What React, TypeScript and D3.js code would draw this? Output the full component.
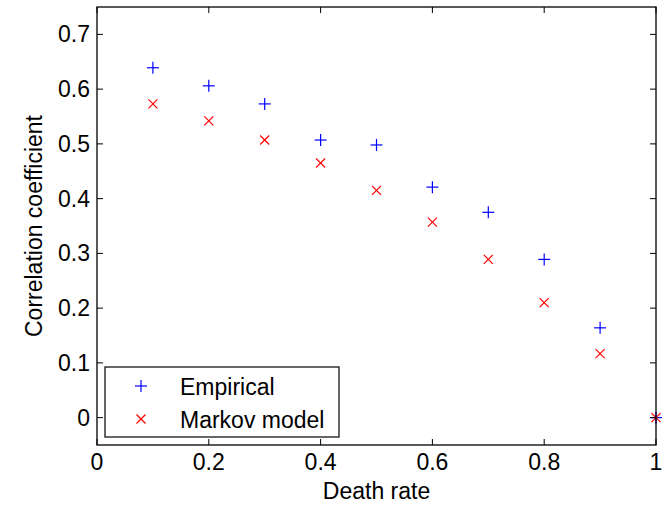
import React from 'react';
import * as d3 from 'd3';

const deathRates = [0.1, 0.2, 0.3, 0.4, 0.5, 0.6, 0.7, 0.8, 0.9, 1.0];
const empirical = [0.639, 0.606, 0.573, 0.507, 0.498, 0.421, 0.375, 0.289, 0.164, 0.0];
const markov = [0.573, 0.542, 0.507, 0.465, 0.415, 0.357, 0.289, 0.21, 0.117, 0.0];
const xTicks = [0, 0.2, 0.4, 0.6, 0.8, 1];
const yTicks = [0, 0.1, 0.2, 0.3, 0.4, 0.5, 0.6, 0.7];

const W = 669;
const H = 506;
const margin = { top: 7, right: 13, bottom: 61, left: 97 };
const font = '"Liberation Sans", Arial, Helvetica, sans-serif';
const fs = 23;

function Plus({ x, y }: { x: number; y: number }) {
  const s = 6;
  return (
    <g stroke="#0000ff" strokeWidth={1.2}>
      <line x1={x - s} x2={x + s} y1={y} y2={y} />
      <line x1={x} x2={x} y1={y - s} y2={y + s} />
    </g>
  );
}

function Cross({ x, y }: { x: number; y: number }) {
  const s = 4.5;
  return (
    <g stroke="#ff0000" strokeWidth={1.2}>
      <line x1={x - s} x2={x + s} y1={y - s} y2={y + s} />
      <line x1={x - s} x2={x + s} y1={y + s} y2={y - s} />
    </g>
  );
}

export default function App() {
  const innerW = W - margin.left - margin.right;
  const innerH = H - margin.top - margin.bottom;
  const x = d3.scaleLinear().domain([0, 1]).range([margin.left, margin.left + innerW]);
  const y = d3.scaleLinear().domain([-0.05, 0.75]).range([margin.top + innerH, margin.top]);
  const x0 = margin.left, x1 = margin.left + innerW;
  const y0 = margin.top + innerH, y1 = margin.top;
  const tl = 6;

  return (
    <div style={{ position: 'absolute', left: 0, top: 0 }}>
      <svg width={W} height={H} style={{ display: 'block', background: '#fff' }} fontFamily={font}>
        <rect x={0} y={0} width={W} height={H} fill="#fff" />
        {/* points */}
        {deathRates.map((d, i) => (
          <Plus key={'e' + i} x={x(d)} y={y(empirical[i])} />
        ))}
        {deathRates.map((d, i) => (
          <Cross key={'m' + i} x={x(d)} y={y(markov[i])} />
        ))}
        {/* axes box */}
        <rect x={x0} y={y1} width={innerW} height={innerH} fill="none" stroke="#000" strokeWidth={1.3} />
        {xTicks.map(t => (
          <g key={'xt' + t}>
            <line x1={x(t)} x2={x(t)} y1={y0} y2={y0 - tl} stroke="#000" />
            <line x1={x(t)} x2={x(t)} y1={y1} y2={y1 + tl} stroke="#000" />
            <text x={x(t)} y={y0 + 25} textAnchor="middle" fontSize={fs}>{t}</text>
          </g>
        ))}
        {yTicks.map(t => (
          <g key={'yt' + t}>
            <line x1={x0} x2={x0 + tl} y1={y(t)} y2={y(t)} stroke="#000" />
            <line x1={x1} x2={x1 - tl} y1={y(t)} y2={y(t)} stroke="#000" />
            <text x={x0 - 7} y={y(t) + 8} textAnchor="end" fontSize={fs}>{t}</text>
          </g>
        ))}
        <text x={(x0 + x1) / 2} y={499} textAnchor="middle" fontSize={fs}>Death rate</text>
        <text transform={`translate(42,${(y0 + y1) / 2}) rotate(-90)`} textAnchor="middle" fontSize={fs}>
          Correlation coefficient
        </text>
        {/* legend */}
        <g>
          <rect x={105} y={367} width={234} height={70} fill="#fff" stroke="#000" strokeWidth={1.2} />
          <Plus x={141} y={386} />
          <text x={180} y={395} fontSize={fs}>Empirical</text>
          <Cross x={141} y={419} />
          <text x={180} y={428} fontSize={fs}>Markov model</text>
        </g>
      </svg>
    </div>
  );
}
